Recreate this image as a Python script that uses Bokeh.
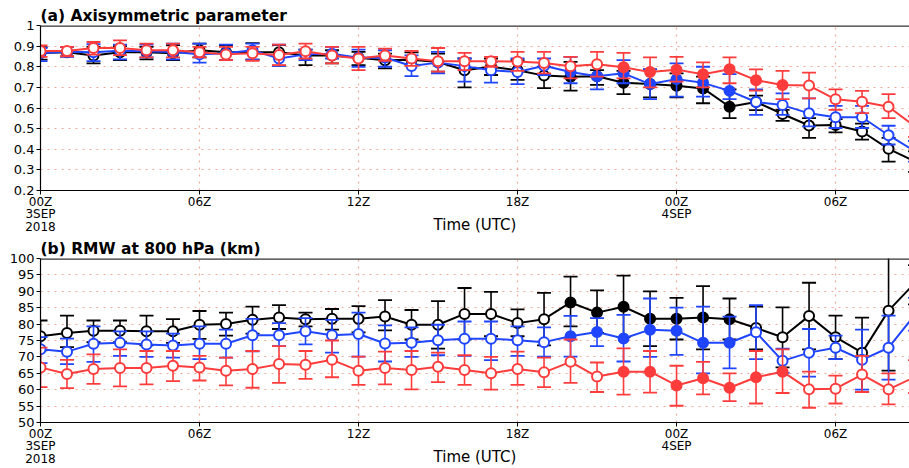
from bokeh.plotting import figure
from bokeh.models import Range1d, FixedTicker, Span
from bokeh.layouts import column
from bokeh.embed import file_html
from bokeh.resources import INLINE

hours = list(range(34))
x_ticks = [0, 6, 12, 18, 24, 30]
x_tick_labels = {0: "00Z\n3SEP\n2018", 6: "06Z", 12: "12Z", 18: "18Z", 24: "00Z\n4SEP", 30: "06Z"}

# ---- (a) Axisymmetric parameter ----
a_black = [0.867, 0.870, 0.855, 0.870, 0.870, 0.866, 0.880, 0.870, 0.870, 0.870, 0.855, 0.855,
           0.844, 0.831, 0.834, 0.823, 0.783, 0.800, 0.783, 0.757, 0.751, 0.754, 0.722, 0.716,
           0.708, 0.695, 0.606, 0.629, 0.571, 0.515, 0.518, 0.486, 0.402, 0.340]
a_black_hi = [0.895, 0.895, 0.896, 0.900, 0.896, 0.905, 0.912, 0.905, 0.915, 0.905, 0.883, 0.880,
              0.872, 0.864, 0.870, 0.864, 0.840, 0.840, 0.832, 0.800, 0.824, 0.784, 0.780, 0.787,
              0.768, 0.752, 0.690, 0.660, 0.591, 0.551, 0.546, 0.524, 0.455, 0.390]
a_black_lo = [0.835, 0.850, 0.816, 0.832, 0.836, 0.832, 0.845, 0.832, 0.835, 0.805, 0.808, 0.816,
              0.808, 0.792, 0.810, 0.776, 0.700, 0.760, 0.736, 0.696, 0.684, 0.712, 0.667, 0.652,
              0.652, 0.623, 0.551, 0.590, 0.538, 0.455, 0.482, 0.447, 0.340, 0.290]
a_black_fill = [0, 0, 0, 0, 0, 0, 0, 0, 0, 0, 0, 0, 0, 0, 0, 0, 0, 0, 0, 0,
                1, 1, 1, 1, 1, 1, 1, 0, 0, 0, 0, 0, 0, 0]

a_blue = [0.867, 0.873, 0.870, 0.878, 0.875, 0.872, 0.860, 0.865, 0.880, 0.840, 0.860, 0.863,
          0.844, 0.845, 0.804, 0.820, 0.803, 0.783, 0.775, 0.805, 0.775, 0.754, 0.768, 0.716,
          0.740, 0.722, 0.683, 0.629, 0.614, 0.574, 0.555, 0.555, 0.468, 0.390]
a_blue_hi = [0.891, 0.896, 0.909, 0.907, 0.907, 0.912, 0.912, 0.907, 0.912, 0.907, 0.883, 0.896,
             0.883, 0.880, 0.855, 0.872, 0.840, 0.824, 0.840, 0.840, 0.848, 0.808, 0.832, 0.787,
             0.816, 0.800, 0.764, 0.690, 0.671, 0.647, 0.610, 0.610, 0.514, 0.440]
a_blue_lo = [0.827, 0.848, 0.827, 0.836, 0.845, 0.836, 0.820, 0.832, 0.835, 0.804, 0.832, 0.840,
             0.800, 0.800, 0.755, 0.768, 0.728, 0.723, 0.716, 0.760, 0.720, 0.690, 0.720, 0.643,
             0.655, 0.655, 0.643, 0.567, 0.567, 0.511, 0.503, 0.503, 0.423, 0.340]
a_blue_fill = [0, 0, 0, 0, 0, 0, 0, 0, 0, 0, 0, 0, 0, 0, 0, 0, 0, 0, 0, 0,
               1, 1, 1, 1, 1, 1, 1, 0, 0, 0, 0, 0, 0, 0]

a_red = [0.876, 0.876, 0.891, 0.891, 0.880, 0.880, 0.870, 0.860, 0.865, 0.857, 0.875, 0.855,
         0.840, 0.855, 0.840, 0.827, 0.827, 0.827, 0.825, 0.818, 0.802, 0.812, 0.798, 0.774,
         0.786, 0.764, 0.788, 0.735, 0.711, 0.709, 0.642, 0.630, 0.606, 0.510]
a_red_hi = [0.904, 0.896, 0.920, 0.928, 0.912, 0.912, 0.896, 0.896, 0.896, 0.907, 0.912, 0.896,
            0.896, 0.888, 0.877, 0.891, 0.867, 0.848, 0.872, 0.872, 0.848, 0.872, 0.867, 0.845,
            0.848, 0.821, 0.845, 0.787, 0.780, 0.772, 0.690, 0.683, 0.667, 0.560]
a_red_lo = [0.848, 0.851, 0.859, 0.856, 0.845, 0.845, 0.845, 0.832, 0.829, 0.808, 0.840, 0.816,
            0.784, 0.829, 0.804, 0.776, 0.784, 0.800, 0.780, 0.768, 0.744, 0.752, 0.744, 0.700,
            0.728, 0.700, 0.720, 0.684, 0.643, 0.647, 0.591, 0.575, 0.551, 0.460]
a_red_fill = [0, 0, 0, 0, 0, 0, 0, 0, 0, 0, 0, 0, 0, 0, 0, 0, 0, 0, 0, 0,
              0, 0, 1, 1, 1, 1, 1, 1, 1, 0, 0, 0, 0, 0]

a_yticks = [0.2, 0.3, 0.4, 0.5, 0.6, 0.7, 0.8, 0.9, 1.0]

# ---- (b) RMW at 800 hPa (km) ----
b_black = [76.3, 77.3, 78.0, 78.0, 77.8, 77.8, 79.8, 80.0, 81.3, 82.0, 81.5, 81.6, 81.6, 82.3,
           79.8, 79.8, 83.1, 83.1, 80.3, 81.5, 86.6, 83.5, 85.3, 81.6, 81.6, 82.0, 81.5, 78.8,
           76.0, 82.5, 76.0, 71.3, 84.1, 92.6]
b_black_hi = [81.1, 82.6, 81.1, 81.1, 82.6, 81.5, 84.0, 83.5, 85.3, 85.8, 83.5, 84.6, 85.5, 87.3,
              84.3, 87.0, 91.0, 89.8, 84.5, 89.5, 94.5, 90.3, 94.8, 90.0, 88.0, 91.6, 87.8, 85.3,
              85.1, 92.6, 82.6, 82.0, 101.0, 98.0]
b_black_lo = [72.0, 73.0, 74.5, 74.5, 73.5, 74.3, 75.5, 76.5, 77.1, 78.5, 79.3, 78.3, 77.5, 78.1,
              75.3, 72.5, 75.3, 76.3, 76.3, 73.5, 79.3, 77.3, 76.0, 73.3, 75.3, 72.3, 75.3, 72.3,
              66.8, 72.3, 69.3, 59.3, 65.8, 86.0]
b_black_fill = [0, 0, 0, 0, 0, 0, 0, 0, 0, 0, 0, 0, 0, 0, 0, 0, 0, 0, 0, 0,
                1, 1, 1, 1, 1, 1, 1, 0, 0, 0, 0, 0, 0, 0]

b_blue = [72.3, 71.6, 74.0, 74.3, 73.8, 73.5, 74.0, 74.0, 76.6, 76.6, 77.8, 76.6, 77.0, 74.1,
          74.3, 75.1, 75.5, 75.5, 75.1, 74.5, 76.3, 77.6, 75.6, 78.3, 78.0, 74.3, 74.3, 77.5,
          68.8, 71.3, 72.8, 69.1, 72.8, 82.9]
b_blue_hi = [76.0, 75.6, 79.3, 77.8, 77.8, 77.1, 79.3, 78.3, 81.6, 80.3, 81.8, 81.3, 83.5, 79.6,
             79.0, 79.8, 80.8, 80.8, 79.3, 79.0, 82.5, 81.8, 82.8, 87.8, 85.0, 85.3, 82.3, 85.8,
             72.5, 78.5, 76.5, 78.3, 82.6, 88.0]
b_blue_lo = [68.1, 67.8, 68.5, 70.3, 70.0, 69.8, 69.3, 69.8, 71.7, 73.3, 73.8, 71.3, 70.1, 68.6,
             70.0, 70.5, 70.3, 69.0, 70.3, 70.1, 70.1, 73.3, 68.6, 70.0, 70.6, 65.0, 66.5, 69.3,
             65.1, 64.0, 69.3, 60.0, 63.1, 78.0]
b_blue_fill = [0, 0, 0, 0, 0, 0, 0, 0, 0, 0, 0, 0, 0, 0, 0, 0, 0, 0, 0, 0,
               1, 1, 1, 1, 1, 1, 1, 0, 0, 0, 0, 0, 0, 0]

b_red = [66.8, 64.8, 66.3, 66.6, 66.6, 67.3, 66.8, 65.8, 66.3, 67.8, 67.6, 69.1, 65.8, 66.6,
         66.0, 67.0, 66.0, 65.0, 66.3, 65.3, 68.5, 64.0, 65.5, 65.5, 61.3, 63.5, 60.6, 63.8,
         65.5, 60.1, 60.3, 64.6, 60.1, 63.9]
b_red_hi = [72.8, 69.1, 70.8, 72.3, 71.8, 71.8, 70.3, 69.8, 71.8, 73.3, 71.8, 75.0, 70.1, 71.6,
            71.8, 71.3, 70.5, 70.0, 71.6, 69.8, 75.3, 68.3, 72.6, 71.8, 67.3, 68.5, 65.0, 71.8,
            72.3, 65.5, 64.3, 70.3, 65.0, 69.0]
b_red_lo = [60.8, 60.5, 61.8, 61.0, 61.6, 62.6, 62.8, 61.3, 60.6, 62.1, 63.3, 63.8, 61.5, 61.6,
            60.1, 62.3, 61.5, 60.0, 61.5, 60.8, 62.1, 59.3, 58.5, 59.1, 55.1, 58.6, 56.5, 55.8,
            59.0, 54.5, 55.8, 59.3, 55.5, 59.0]
b_red_fill = [0, 0, 0, 0, 0, 0, 0, 0, 0, 0, 0, 0, 0, 0, 0, 0, 0, 0, 0, 0,
              0, 0, 1, 1, 1, 1, 1, 1, 1, 0, 0, 0, 0, 0]

b_yticks = [50, 55, 60, 65, 70, 75, 80, 85, 90, 95, 100]

BLACK = "#000000"
BLUE = "#1f45ff"
RED = "#ff3c3c"
GRID = "#eea898"
TICK_FONT = "DejaVu Sans"


def make_panel(height, top, bottom, ylo, yhi, yticks, overrides, series, title):
    p = figure(width=909, height=height, x_range=Range1d(0, 32.79), y_range=Range1d(ylo, yhi),
               output_backend="svg", toolbar_location=None, title=title, title_location="above",
               min_border_left=40, min_border_right=0, min_border_top=top, min_border_bottom=bottom)
    p.background_fill_color = "white"
    p.border_fill_color = "white"
    p.outline_line_color = None

    p.title.text_font = "DejaVu Sans"
    p.title.text_font_size = "15.5px"
    p.title.text_font_style = "bold"
    p.title.text_color = "black"
    p.title.align = "left"
    p.title.offset = 0
    p.title.standoff = 1

    xa = p.xaxis[0]
    xa.ticker = FixedTicker(ticks=x_ticks)
    xa.major_label_overrides = x_tick_labels
    ya = p.yaxis[0]
    ya.ticker = FixedTicker(ticks=yticks)
    ya.major_label_overrides = overrides
    for ax in (xa, ya):
        ax.axis_line_color = "black"
        ax.axis_line_width = 1.2
        ax.major_tick_line_color = "black"
        ax.major_tick_out = 4
        ax.major_tick_in = 0
        ax.minor_tick_line_color = None
        ax.major_label_text_font = TICK_FONT
        ax.major_label_text_color = "black"
    xa.major_label_text_font_size = "12px"
    ya.major_label_text_font_size = "13px"
    ya.major_label_standoff = 2
    xa.major_label_standoff = 0
    xa.major_label_text_line_height = 0.9
    xa.axis_label = "Time (UTC)"
    xa.axis_label_text_font = TICK_FONT
    xa.axis_label_text_font_size = "15px"
    xa.axis_label_text_font_style = "normal"
    xa.axis_label_text_color = "black"
    xa.axis_label_standoff = -21

    for g in (p.xgrid[0], p.ygrid[0]):
        g.grid_line_color = GRID
        g.grid_line_dash = "2 5"
        g.grid_line_width = 1.2
    p.ygrid[0].ticker = FixedTicker(ticks=yticks)

    for (c, hi, lo, mid, fill) in series:
        p.segment(x0=hours, y0=lo, x1=hours, y1=hi, line_color=c, line_width=1.6)
        p.scatter(x=hours, y=hi, marker="dash", size=14, line_color=c, line_width=1.8)
        p.scatter(x=hours, y=lo, marker="dash", size=14, line_color=c, line_width=1.8)
        p.line(x=hours, y=mid, line_color=c, line_width=2)
        xo = [h for h, f in zip(hours, fill) if f == 0]
        yo = [v for v, f in zip(mid, fill) if f == 0]
        xf = [h for h, f in zip(hours, fill) if f == 1]
        yf = [v for v, f in zip(mid, fill) if f == 1]
        p.scatter(x=xo, y=yo, marker="circle", size=10, line_color=c, line_width=2, fill_color="white")
        p.scatter(x=xf, y=yf, marker="circle", size=10, line_color=c, line_width=2, fill_color=c)

    p.add_layout(Span(location=yhi, dimension="width", line_color="#333333", line_width=2.6))
    return p


pa = make_panel(236, 25, 45, 0.2, 1.0, a_yticks, {1.0: "1"},
                [(BLACK, a_black_hi, a_black_lo, a_black, a_black_fill),
                 (BLUE, a_blue_hi, a_blue_lo, a_blue, a_blue_fill),
                 (RED, a_red_hi, a_red_lo, a_red, a_red_fill)],
                "(a) Axisymmetric parameter")
pb = make_panel(232, 22, 43, 50, 100, b_yticks, {},
                [(BLACK, b_black_hi, b_black_lo, b_black, b_black_fill),
                 (BLUE, b_blue_hi, b_blue_lo, b_blue, b_blue_fill),
                 (RED, b_red_hi, b_red_lo, b_red, b_red_fill)],
                "(b) RMW at 800 hPa (km)")

layout = column(pa, pb, spacing=0)
open("out.html", "w").write(file_html(layout, INLINE))
